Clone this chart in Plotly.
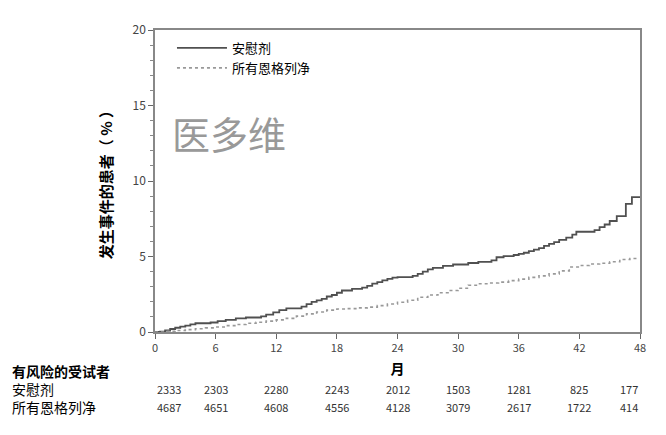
import plotly.graph_objects as go

# Cumulative incidence (%) - step curves
placebo_month = [0, 0.5, 1, 1.5, 2, 2.5, 3, 3.5, 4, 5.5, 6.2, 7, 8, 9, 10.5, 11, 11.7, 12.3, 13,
                 14.5, 15, 15.5, 16, 16.5, 17, 17.5, 18, 18.5, 19.5, 20.5, 21, 21.5, 22, 22.5, 23,
                 23.5, 24, 25.5, 26, 26.5, 27, 27.5, 28.5, 29.5, 31, 32, 33.3, 33.8, 34.5, 35.5, 36,
                 36.5, 37, 37.5, 38, 38.5, 39, 39.5, 40, 40.7, 41.3, 41.7, 43.5, 44, 44.5, 45, 45.7,
                 46.6, 47.2, 48]
placebo_pct = [0, 0.02, 0.1, 0.2, 0.28, 0.35, 0.42, 0.5, 0.58, 0.63, 0.72, 0.8, 0.9, 0.96, 1.03,
               1.15, 1.3, 1.45, 1.57, 1.68, 1.85, 2.0, 2.1, 2.2, 2.35, 2.45, 2.6, 2.75, 2.85, 2.94,
               3.05, 3.2, 3.3, 3.42, 3.52, 3.6, 3.64, 3.72, 3.85, 4.0, 4.15, 4.25, 4.38, 4.47, 4.57,
               4.64, 4.74, 4.95, 5.02, 5.1, 5.17, 5.25, 5.35, 5.45, 5.56, 5.7, 5.84, 5.95, 6.1,
               6.25, 6.45, 6.64, 6.75, 6.95, 7.12, 7.35, 7.67, 8.49, 8.93, 8.93]

empa_month = [0, 1, 2, 3, 4, 5, 6, 7, 8, 9, 10, 11, 12, 13, 14, 15, 16, 17, 18, 19, 20, 21, 22,
              23, 24, 25, 26, 27, 28, 29, 30, 31, 32, 33, 34, 35, 36, 37, 38, 39, 40, 41, 42, 43,
              44, 45, 46, 47, 47.7]
empa_pct = [0, 0.04, 0.1, 0.16, 0.22, 0.27, 0.33, 0.42, 0.5, 0.58, 0.65, 0.72, 0.8, 0.9, 1.05,
            1.2, 1.32, 1.45, 1.52, 1.55, 1.6, 1.65, 1.75, 1.85, 1.97, 2.1, 2.3, 2.45, 2.6, 2.75,
            2.9, 3.1, 3.2, 3.25, 3.3, 3.4, 3.5, 3.62, 3.72, 3.85, 4.05, 4.3, 4.4, 4.5, 4.55, 4.65,
            4.8, 4.87, 4.87]

# Number at risk table
risk_months = [0, 6, 12, 18, 24, 30, 36, 42, 48]
placebo_risk = [2333, 2303, 2280, 2243, 2012, 1503, 1281, 825, 177]
empa_risk = [4687, 4651, 4608, 4556, 4128, 3079, 2617, 1722, 414]

FONT = "Noto Sans CJK SC"

fig = go.Figure()

fig.add_trace(go.Scatter(x=placebo_month, y=placebo_pct, mode='lines', name='安慰剂',
                         line=dict(color='#505050', width=1.8, shape='hv')))
fig.add_trace(go.Scatter(x=empa_month, y=empa_pct, mode='lines', name='所有恩格列净',
                         line=dict(color='#999999', width=1.6, dash='dot', shape='hv')))

# watermark
fig.add_annotation(text='医多维', xref='paper', yref='paper', x=0.03, y=0.66,
                   xanchor='left', yanchor='middle', showarrow=False,
                   font=dict(family=FONT, size=38, color='#999999'))

# at-risk table: row labels in one block so the lines sit tight like the reference
ROW1, ROW2 = -0.19, -0.248
fig.add_annotation(text='<b>有风险的受试者</b><br>安慰剂<br>所有恩格列净', xref='paper', yref='paper',
                   x=-0.298, y=-0.089, xanchor='left', yanchor='top', align='left',
                   showarrow=False, font=dict(family=FONT, size=14, color='black'))

for counts, yy in [(placebo_risk, ROW1), (empa_risk, ROW2)]:
    for i, (m, n) in enumerate(zip(risk_months, counts)):
        anchor = 'left' if i == 0 else ('right' if i == len(risk_months) - 1 else 'center')
        fig.add_annotation(text=str(n), xref='x', yref='paper', x=m, y=yy,
                           xanchor=anchor, yanchor='middle', showarrow=False,
                           font=dict(family=FONT, size=11, color='#333333'))

# page body has an 8px margin, so the figure is sized/placed to compensate
fig.update_layout(
    width=650, height=419,
    margin=dict(l=147, r=17, t=17, b=95),
    plot_bgcolor='white', paper_bgcolor='white',
    font=dict(family=FONT, color='#333333'),
    showlegend=True,
    legend=dict(x=0.035, y=0.99, xanchor='left', yanchor='top', bgcolor='rgba(0,0,0,0)',
                itemwidth=50, font=dict(family=FONT, size=13, color='black'), tracegroupgap=0),
)

fig.update_xaxes(range=[0, 48], tickvals=risk_months, ticks='outside', ticklen=5,
                 tickcolor='#666666', showline=True, linecolor='#888888', linewidth=1.5,
                 mirror=True, showgrid=False, zeroline=False,
                 tickfont=dict(size=11, color='#444444'),
                 title=dict(text='<b>月</b>', font=dict(size=14, color='black'), standoff=10))
fig.update_yaxes(range=[0, 20], tickvals=[0, 5, 10, 15, 20], ticks='outside', ticklen=5,
                 tickcolor='#666666', showline=True, linecolor='#888888', linewidth=1.5,
                 mirror=True, showgrid=False, zeroline=False,
                 minor=dict(dtick=1, ticks='outside', ticklen=3, tickcolor='#888888'),
                 tickfont=dict(size=12, color='#444444'),
                 title=dict(text='<b>发生事件的患者（ % ）</b>', font=dict(size=15, color='black'),
                            standoff=16))

fig.write_html("out.html")
